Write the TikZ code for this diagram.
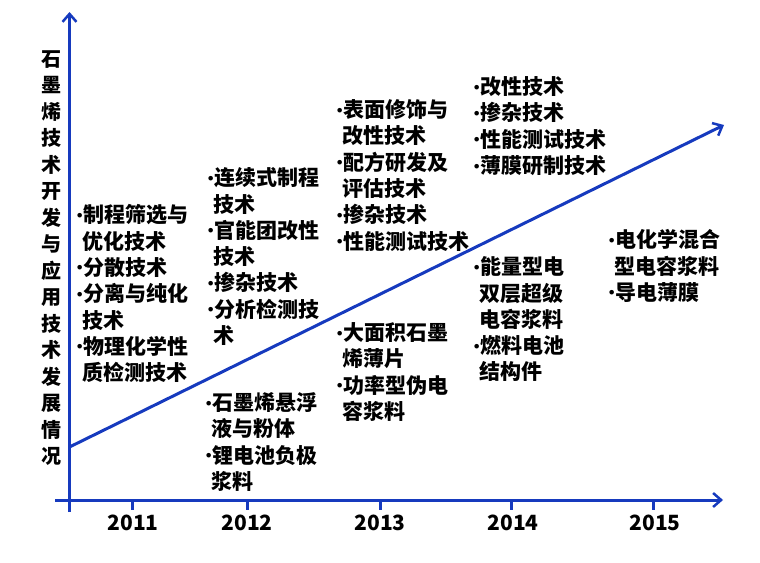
\documentclass[tikz,border=0pt]{standalone}
\usepackage{fontspec}
\setmainfont{Noto Sans CJK SC}
\newfontfamily\dejavu{DejaVu Sans}
\usetikzlibrary{arrows.meta}
\definecolor{axisblue}{RGB}{22,58,190}
\newcommand\bu{\makebox[7pt][c]{\raisebox{2.5pt}{\dejavu\fontsize{13}{13}\selectfont •}}}
\newcommand\ind{\hspace*{6pt}}
\tikzset{
  axis/.style={draw=axisblue, line width=3pt, -{Straight Barb[length=8pt,width=14pt,line width=2.5pt]}},
  tickline/.style={draw=axisblue, line width=3pt},
  blk/.style={anchor=north west, inner sep=0pt, align=left, font=\fontsize{21}{26.3}\selectfont\bfseries},
  yearlbl/.style={anchor=center, inner sep=0pt, font=\fontsize{21}{24}\selectfont\bfseries},
  titlelbl/.style={anchor=north, inner sep=0pt, align=center, font=\fontsize{20}{26.5}\selectfont\bfseries}
}
\begin{document}
\begin{tikzpicture}[x=1pt,y=-1pt]
\useasboundingbox (0,0) rectangle (760,562);
% axes
\coordinate (vb) at (69.5,512);
\coordinate (vt) at (69.5,12);
\coordinate (hl) at (55,500);
\coordinate (hr) at (723,500);
\coordinate (ds) at (69.5,447);
\coordinate (de) at (724,125);
\draw[axis] (vb) -- (vt);
\draw[axis] (hl) -- (hr);
\draw[axis] (ds) -- (de);
% ticks
\foreach \n/\x in {a/132,b/247,c/380,d/511,e/653}{
  \coordinate (tk\n) at (\x,500);
  \coordinate (tb\n) at (\x,510);
  \draw[tickline] (tk\n) -- (tb\n);
}
% years
\node[yearlbl] (y11) at (133,523) {2011};
\node[yearlbl] (y12) at (247,523) {2012};
\node[yearlbl] (y13) at (380,523) {2013};
\node[yearlbl] (y14) at (513,523) {2014};
\node[yearlbl] (y15) at (655,523) {2015};
% title
\node[titlelbl] (title) at (51,50) {石\\墨\\烯\\技\\术\\开\\发\\与\\应\\用\\技\\术\\发\\展\\情\\况};
% text blocks
\node[blk] (t11) at (76,204.5) {\bu 制程筛选与\\\ind 优化技术\\\bu 分散技术\\\bu 分离与纯化\\\ind 技术\\\bu 物理化学性\\\ind 质检测技术};
\node[blk] (t12a) at (207,167.5) {\bu 连续式制程\\\ind 技术\\\bu 官能团改性\\\ind 技术\\\bu 掺杂技术\\\bu 分析检测技\\\ind 术};
\node[blk] (t12b) at (205,392.5) {\bu 石墨烯悬浮\\\ind 液与粉体\\\bu 锂电池负极\\\ind 浆料};
\node[blk] (t13a) at (336,99.5) {\bu 表面修饰与\\\ind 改性技术\\\bu 配方研发及\\\ind 评估技术\\\bu 掺杂技术\\\bu 性能测试技术};
\node[blk] (t13b) at (336,322.5) {\bu 大面积石墨\\\ind 烯薄片\\\bu 功率型伪电\\\ind 容浆料};
\node[blk] (t14a) at (473,76.5) {\bu 改性技术\\\bu 掺杂技术\\\bu 性能测试技术\\\bu 薄膜研制技术};
\node[blk] (t14b) at (473,256.5) {\bu 能量型电\\\ind 双层超级\\\ind 电容浆料\\\bu 燃料电池\\\ind 结构件};
\node[blk] (t15) at (608,229.5) {\bu 电化学混合\\\ind 型电容浆料\\\bu 导电薄膜};
\end{tikzpicture}
\end{document}
